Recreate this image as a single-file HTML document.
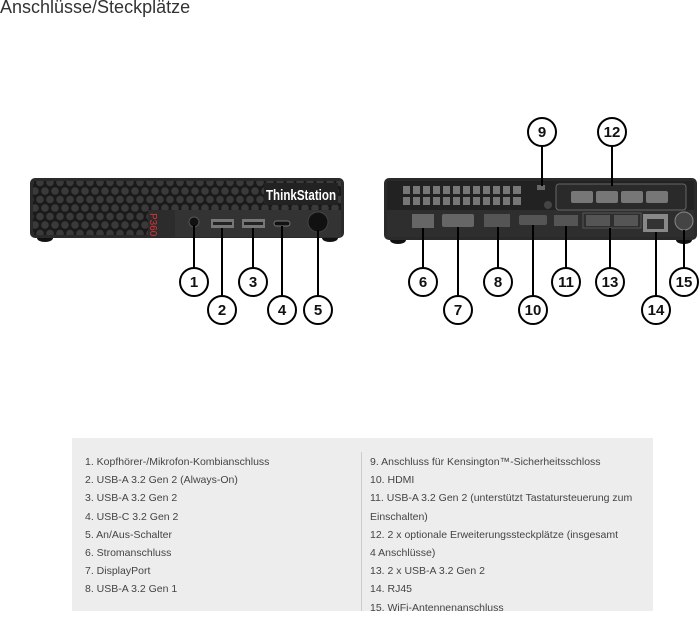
<!DOCTYPE html>
<html><head><meta charset="utf-8"><style>
body{margin:0;width:700px;height:611px;background:#fff;overflow:hidden;position:relative;font-family:"Liberation Sans",sans-serif}
.t{position:absolute;left:0;top:-3px;font-size:18px;color:#333;font-weight:300}
.box{position:absolute;left:72px;top:438px;width:581px;height:173px;background:#ededed}
.col{position:absolute;top:15px;font-size:10.5px;color:#444;line-height:18.2px}
.div{position:absolute;left:289px;top:14px;width:1px;height:159px;background:#ccc}
</style></head><body>
<div class="t">Anschlüsse/Steckplätze</div>
<svg width="700" height="611" style="position:absolute;left:0;top:0">
<defs>
<pattern id="hex" width="10" height="17" patternUnits="userSpaceOnUse">
<rect width="10" height="17" fill="#1a1a1a"/>
<circle cx="5" cy="4" r="3.8" fill="#3a3a3a"/><circle cx="0" cy="12.5" r="3.8" fill="#3a3a3a"/><circle cx="10" cy="12.5" r="3.8" fill="#3a3a3a"/>
</pattern>
</defs>
<!-- front device -->
<ellipse cx="45" cy="238" rx="8" ry="4" fill="#111"/><ellipse cx="330" cy="238" rx="8" ry="4" fill="#111"/>
<rect x="30" y="178" width="314" height="60" rx="5" fill="#2a2a2a"/>
<rect x="33" y="181" width="308" height="54" fill="url(#hex)"/>
<rect x="148" y="210" width="193" height="27" fill="#2c2c2c"/>
<rect x="175" y="210" width="166" height="27" fill="#333"/>
<text x="0" y="0" fill="#d33" font-size="10" transform="translate(150 213) rotate(90)" font-family="Liberation Sans">P360</text>
<rect x="264" y="183" width="74" height="22" fill="#222"/>
<text x="266" y="200" fill="#fff" font-size="15" font-weight="bold" textLength="70" lengthAdjust="spacingAndGlyphs" font-family="Liberation Sans">ThinkStation</text>
<circle cx="194" cy="222" r="5" fill="#111" stroke="#555"/>
<rect x="211" y="219" width="23" height="9" fill="#777"/><rect x="213" y="222" width="19" height="3" fill="#222"/>
<rect x="242" y="219" width="23" height="9" fill="#777"/><rect x="244" y="222" width="19" height="3" fill="#222"/>
<rect x="274" y="221" width="16" height="5" rx="2.5" fill="#111" stroke="#777"/>
<circle cx="318" cy="222" r="10" fill="#111" stroke="#444"/>
<!-- rear device -->
<ellipse cx="398" cy="240" rx="8" ry="4" fill="#111"/><ellipse cx="684" cy="240" rx="8" ry="4" fill="#111"/>
<rect x="384" y="178" width="313" height="62" rx="5" fill="#2a2a2a"/>
<rect x="387" y="181" width="307" height="56" fill="#222"/>
<rect x="387" y="210" width="307" height="27" fill="#2e2e2e"/>
<g fill="#777">
<rect x="403" y="186" width="118" height="8"/><rect x="403" y="197" width="118" height="8"/>
</g>
<g fill="#222"><rect x="410" y="185" width="3" height="21"/><rect x="420" y="185" width="3" height="21"/><rect x="430" y="185" width="3" height="21"/><rect x="440" y="185" width="3" height="21"/><rect x="450" y="185" width="3" height="21"/><rect x="460" y="185" width="3" height="21"/><rect x="470" y="185" width="3" height="21"/><rect x="480" y="185" width="3" height="21"/><rect x="490" y="185" width="3" height="21"/><rect x="500" y="185" width="3" height="21"/><rect x="510" y="185" width="3" height="21"/><rect x="403" y="194" width="118" height="3"/></g>
<rect x="537" y="185" width="8" height="5" fill="#666"/>
<circle cx="548" cy="205" r="4" fill="#444"/>
<rect x="556" y="184" width="130" height="26" rx="3" fill="#2a2a2a" stroke="#666"/>
<g fill="#777"><rect x="571" y="191" width="22" height="12" rx="2"/><rect x="596" y="191" width="22" height="12" rx="2"/><rect x="621" y="191" width="22" height="12" rx="2"/><rect x="646" y="191" width="22" height="12" rx="2"/></g>
<rect x="412" y="214" width="22" height="14" fill="#666"/>
<rect x="442" y="214" width="32" height="13" rx="2" fill="#666"/>
<rect x="484" y="214" width="26" height="13" fill="#555"/>
<rect x="519" y="215" width="28" height="10" rx="2" fill="#555"/>
<rect x="554" y="215" width="24" height="11" fill="#555"/>
<rect x="583" y="213" width="58" height="15" fill="none" stroke="#555"/>
<rect x="586" y="215" width="24" height="11" fill="#555"/><rect x="614" y="215" width="24" height="11" fill="#555"/>
<rect x="643" y="214" width="25" height="18" fill="#888"/><rect x="647" y="219" width="17" height="10" fill="#333"/>
<circle cx="684" cy="221" r="9" fill="#444" stroke="#888"/>
<!-- leader lines -->
<g stroke="#000" stroke-width="2">
<line x1="194" y1="225" x2="194" y2="268"/><line x1="222" y1="228" x2="222" y2="296"/><line x1="253" y1="228" x2="253" y2="268"/><line x1="282" y1="226" x2="282" y2="296"/><line x1="318" y1="230" x2="318" y2="296"/>
<line x1="542" y1="146" x2="542" y2="186"/><line x1="612" y1="146" x2="612" y2="186"/>
<line x1="423" y1="228" x2="423" y2="268"/><line x1="458" y1="227" x2="458" y2="296"/><line x1="498" y1="227" x2="498" y2="268"/><line x1="533" y1="225" x2="533" y2="296"/><line x1="566" y1="226" x2="566" y2="268"/><line x1="610" y1="228" x2="610" y2="268"/><line x1="656" y1="232" x2="656" y2="296"/><line x1="684" y1="230" x2="684" y2="268"/>
</g>
<g stroke="#000" stroke-width="2" fill="#fff">
<circle cx="194" cy="282" r="14"/><circle cx="222" cy="310" r="14"/><circle cx="253" cy="282" r="14"/><circle cx="282" cy="310" r="14"/><circle cx="318" cy="310" r="14"/>
<circle cx="542" cy="132" r="14"/><circle cx="612" cy="132" r="14"/>
<circle cx="423" cy="282" r="14"/><circle cx="458" cy="310" r="14"/><circle cx="498" cy="282" r="14"/><circle cx="533" cy="310" r="14"/><circle cx="566" cy="282" r="14"/><circle cx="610" cy="282" r="14"/><circle cx="656" cy="310" r="14"/><circle cx="684" cy="282" r="14"/>
</g>
<g font-family="Liberation Sans" font-weight="bold" font-size="15" text-anchor="middle" fill="#111">
<text x="194" y="287">1</text><text x="222" y="315">2</text><text x="253" y="287">3</text><text x="282" y="315">4</text><text x="318" y="315">5</text>
<text x="542" y="137">9</text><text x="612" y="137">12</text>
<text x="423" y="287">6</text><text x="458" y="315">7</text><text x="498" y="287">8</text><text x="533" y="315">10</text><text x="566" y="287">11</text><text x="610" y="287">13</text><text x="656" y="315">14</text><text x="684" y="287">15</text>
</g>
</svg>
<div class="box">
<div class="col" style="left:13px">1. Kopfhörer-/Mikrofon-Kombianschluss<br>2. USB-A 3.2 Gen 2 (Always-On)<br>3. USB-A 3.2 Gen 2<br>4. USB-C 3.2 Gen 2<br>5. An/Aus-Schalter<br>6. Stromanschluss<br>7. DisplayPort<br>8. USB-A 3.2 Gen 1</div>
<div class="div"></div>
<div class="col" style="left:298px">9. Anschluss für Kensington™-Sicherheitsschloss<br>10. HDMI<br>11. USB-A 3.2 Gen 2 (unterstützt Tastatursteuerung zum<br>Einschalten)<br>12. 2 x optionale Erweiterungssteckplätze (insgesamt<br>4 Anschlüsse)<br>13. 2 x USB-A 3.2 Gen 2<br>14. RJ45<br>15. WiFi-Antennenanschluss</div>
</div>
</body></html>
